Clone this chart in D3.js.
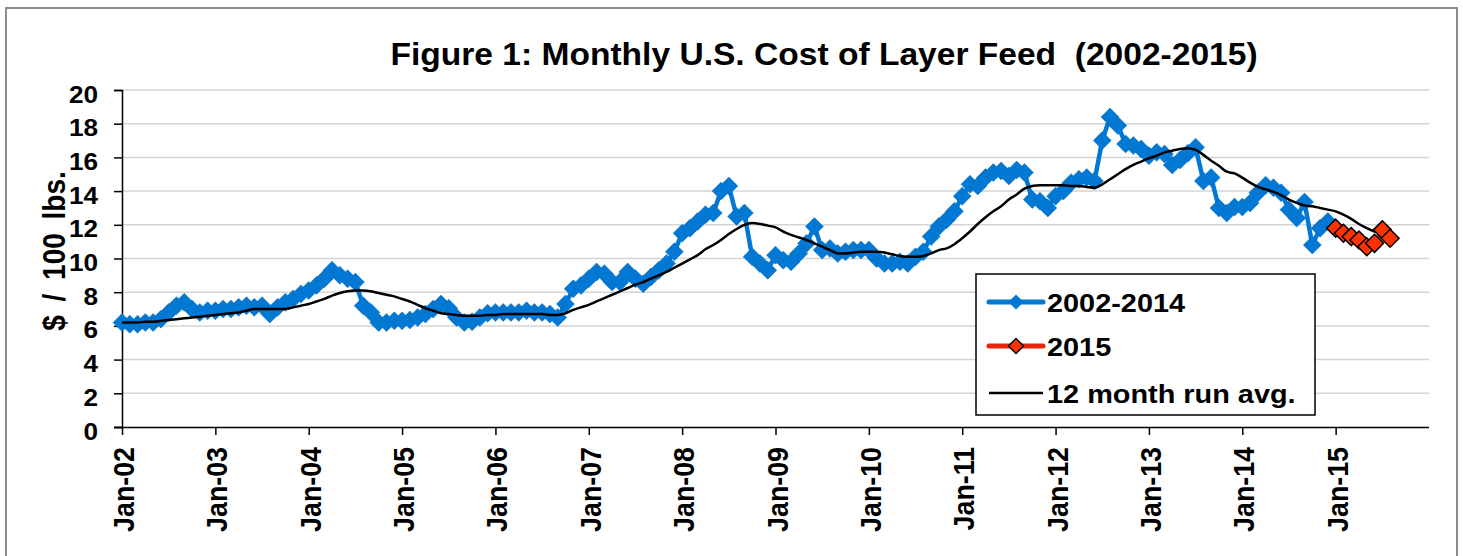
<!DOCTYPE html>
<html>
<head>
<meta charset="utf-8">
<script src="https://cdn.jsdelivr.net/npm/d3@7"></script>
<style>
  body { margin: 0; background: #fff; }
  text { font-family: "Liberation Sans", Arial, sans-serif; font-weight: bold; fill: #000; }
</style>
</head>
<body>
<div class="chart"></div>
<script>
// monthly cost, $ / 100 lbs, Jan 2002 .. Dec 2014
const feed2002to2014 = [
  6.2, 6.1, 6.1, 6.2, 6.2, 6.4, 6.8, 7.2, 7.4, 7.0, 6.8, 6.9,        // 2002
  6.9, 7.0, 7.0, 7.1, 7.2, 7.1, 7.2, 6.7, 7.1, 7.4, 7.6, 7.9,        // 2003
  8.1, 8.4, 8.8, 9.3, 9.0, 8.8, 8.6, 7.2, 6.8, 6.2, 6.2, 6.3,        // 2004
  6.3, 6.35, 6.5, 6.7, 7.0, 7.3, 7.05, 6.5, 6.2, 6.25, 6.5, 6.75,    // 2005
  6.8, 6.8, 6.8, 6.8, 6.9, 6.8, 6.8, 6.7, 6.5, 7.3, 8.2, 8.4,        // 2006
  8.8, 9.2, 9.1, 8.6, 8.6, 9.2, 8.8, 8.5, 8.9, 9.3, 9.7, 10.4,       // 2007
  11.5, 11.8, 12.2, 12.6, 12.7, 14.0, 14.3, 12.5, 12.7, 10.1, 9.7, 9.3, // 2008
  10.2, 9.9, 9.8, 10.3, 10.9, 11.9, 10.5, 10.6, 10.3, 10.4, 10.5, 10.5, // 2009
  10.5, 10.0, 9.7, 9.7, 9.8, 9.7, 10.1, 10.4, 11.3, 11.9, 12.3, 12.8,   // 2010
  13.7, 14.4, 14.3, 14.8, 15.1, 15.2, 14.9, 15.25, 15.1, 13.5, 13.4, 13.0, // 2011
  13.7, 14.0, 14.5, 14.7, 14.8, 14.6, 17.0, 18.4, 17.9, 16.8, 16.7, 16.5,  // 2012
  16.1, 16.3, 16.2, 15.55, 15.85, 16.25, 16.6, 14.6, 14.8, 13.0, 12.7, 13.05, // 2013
  13.05, 13.3, 13.9, 14.35, 14.2, 13.9, 12.9, 12.4, 13.35, 10.8, 11.8, 12.2  // 2014
];
// Jan .. Aug 2015
const feed2015 = [11.8, 11.5, 11.3, 11.1, 10.7, 10.9, 11.7, 11.2];

// 12 month running average, Jan 2002 .. Aug 2015
const runAvg = [
  6.2, 6.2, 6.2, 6.25, 6.25, 6.3, 6.35, 6.4, 6.45, 6.5, 6.55, 6.6,
  6.65, 6.7, 6.75, 6.8, 6.9, 7.0, 7.0, 7.0, 7.0, 7.0, 7.1, 7.2,
  7.3, 7.45, 7.6, 7.8, 7.95, 8.05, 8.1, 8.1, 8.05, 7.95, 7.85, 7.75,
  7.6, 7.45, 7.25, 7.05, 6.9, 6.75, 6.7, 6.65, 6.6, 6.6, 6.6, 6.65,
  6.65, 6.7, 6.7, 6.7, 6.7, 6.7, 6.7, 6.65, 6.65, 6.75, 6.95, 7.1,
  7.25, 7.45, 7.65, 7.85, 8.05, 8.25, 8.45, 8.6, 8.8, 9.0, 9.2, 9.45,
  9.7, 9.95, 10.2, 10.55, 10.8, 11.1, 11.45, 11.75, 12.0, 12.1, 12.05, 11.95,
  11.85, 11.6, 11.4, 11.25, 11.1, 10.9, 10.7, 10.5, 10.3, 10.3, 10.35, 10.4,
  10.4, 10.4, 10.35, 10.25, 10.15, 10.1, 10.1, 10.15, 10.3, 10.5, 10.6, 10.85,
  11.2, 11.6, 12.05, 12.45, 12.8, 13.1, 13.5, 13.8, 14.15, 14.3, 14.35, 14.35,
  14.35, 14.35, 14.3, 14.3, 14.25, 14.2, 14.4, 14.7, 15.0, 15.3, 15.55, 15.75,
  15.95, 16.1, 16.3, 16.4, 16.5, 16.55, 16.45, 16.15, 15.8, 15.5, 15.15, 15.05,
  14.8, 14.5, 14.25, 14.1, 13.95, 13.75, 13.5, 13.3, 13.15, 13.1, 13.0, 12.9,
  12.8, 12.6, 12.35, 12.05, 11.8, 11.6, 11.5, 11.45
];

const yTicks = [0, 2, 4, 6, 8, 10, 12, 14, 16, 18, 20];
const xTickLabels = ['Jan-02', 'Jan-03', 'Jan-04', 'Jan-05', 'Jan-06', 'Jan-07', 'Jan-08',
                     'Jan-09', 'Jan-10', 'Jan-11', 'Jan-12', 'Jan-13', 'Jan-14', 'Jan-15'];
const legendLabels = ['2002-2014', '2015', '12 month run avg.'];
const titleText = 'Figure 1: Monthly U.S. Cost of Layer Feed  (2002-2015)';

// month categories Jan-02 .. Jan-16
const fmt = d3.timeFormat('%b-%y');
const months = d3.timeMonth.range(new Date(2002, 0, 1), new Date(2016, 0, 2)).map(fmt);

const blue = '#0078d4';
const red = '#ff3300';
const sx = 1.09;   // the reference is a bit wider than tall in its lettering

const svg = d3.select('.chart').append('svg')
    .attr('width', 1463)
    .attr('height', 556);

svg.append('rect')
    .attr('x', 6).attr('y', 8)
    .attr('width', 1451).attr('height', 560)
    .attr('fill', '#fff')
    .attr('stroke', '#8c8c8c')
    .attr('stroke-width', 2);

const xScale = d3.scalePoint()
    .domain(months)
    .range([122, 1429]);

const yScale = d3.scaleLinear()
    .domain([0, 20])
    .range([427, 90]);

// grid
svg.append('g')
    .selectAll('line')
    .data(yTicks.slice(1))
    .join('line')
    .attr('x1', 122).attr('x2', 1429)
    .attr('y1', d => yScale(d)).attr('y2', d => yScale(d))
    .attr('stroke', '#d4d4d4')
    .attr('stroke-width', 1.5);

const yAxis = svg.append('g')
    .attr('transform', 'translate(122,0)')
    .call(d3.axisLeft(yScale).tickValues(yTicks).tickSize(8).tickPadding(0));
yAxis.select('.domain').attr('stroke-width', 1.5);
yAxis.selectAll('.tick line').attr('stroke-width', 1.5);
yAxis.selectAll('.tick text')
    .attr('x', null).attr('dy', null)
    .attr('transform', `translate(-24,12) scale(${sx},1)`)
    .attr('text-anchor', 'end')
    .style('font-size', '24px');

const xAxis = svg.append('g')
    .attr('transform', 'translate(0,427)')
    .call(d3.axisBottom(xScale)
        .tickValues(months.filter(m => m.startsWith('Jan')).slice(0, xTickLabels.length))
        .tickFormat((d, i) => xTickLabels[i])
        .tickSize(8)
        .tickSizeOuter(0));
xAxis.select('.domain').attr('d', 'M114,0.5H1429').attr('stroke-width', 1.5);
xAxis.selectAll('.tick line').attr('stroke-width', 1.5);
xAxis.selectAll('.tick text')
    .attr('y', null).attr('dy', null)
    .attr('transform', `translate(11.5,20) scale(${sx},1) rotate(-90)`)
    .attr('text-anchor', 'end')
    .style('font-size', '26.8px');

svg.append('text')
    .attr('transform', `translate(65,251) scale(${sx},1) rotate(-90)`)
    .attr('text-anchor', 'middle')
    .style('font-size', '28px')
    .style('word-spacing', '6px')
    .text('$ / 100 lbs.');

svg.append('text')
    .attr('transform', `translate(824,65) scale(${sx},1)`)
    .attr('text-anchor', 'middle')
    .style('font-size', '30.8px')
    .style('white-space', 'pre')
    .text(titleText);

const diamond = r => `M0,${-r}L${r},0L0,${r}L${-r},0Z`;

const line = d3.line()
    .x(d => xScale(d.m))
    .y(d => yScale(d.v));

const blueData = feed2002to2014.map((v, i) => ({m: months[i], v}));
const redData = feed2015.map((v, i) => ({m: months[156 + i], v}));
const avgData = runAvg.map((v, i) => ({m: months[i], v}));

svg.append('path')
    .datum(blueData)
    .attr('d', line)
    .attr('fill', 'none')
    .attr('stroke', blue)
    .attr('stroke-width', 4.5)
    .attr('stroke-linejoin', 'round');

svg.append('g')
    .selectAll('path')
    .data(blueData)
    .join('path')
    .attr('transform', d => `translate(${xScale(d.m)},${yScale(d.v)})`)
    .attr('d', diamond(9))
    .attr('fill', blue)
    .attr('stroke', '#0a6fc0')
    .attr('stroke-width', 0.5);

svg.append('path')
    .datum(avgData)
    .attr('d', line.curve(d3.curveMonotoneX))
    .attr('fill', 'none')
    .attr('stroke', '#000')
    .attr('stroke-width', 2.5);
line.curve(d3.curveLinear);

svg.append('path')
    .datum(redData)
    .attr('d', line)
    .attr('fill', 'none')
    .attr('stroke', '#e8260c')
    .attr('stroke-width', 4.5);

svg.append('g')
    .selectAll('path')
    .data(redData)
    .join('path')
    .attr('transform', d => `translate(${xScale(d.m)},${yScale(d.v)})`)
    .attr('d', diamond(9))
    .attr('fill', red)
    .attr('stroke', '#000')
    .attr('stroke-width', 1.5);

// legend
const legend = svg.append('g');
legend.append('rect')
    .attr('x', 976).attr('y', 274)
    .attr('width', 339).attr('height', 141)
    .attr('fill', '#fff')
    .attr('stroke', '#000')
    .attr('stroke-width', 1.5);

const rows = legend.selectAll('.row')
    .data(legendLabels)
    .join('g')
    .attr('class', 'row')
    .attr('transform', (d, i) => `translate(0,${[302, 346, 393][i]})`);

rows.append('line')
    .attr('x1', 989).attr('x2', 1043)
    .attr('stroke', (d, i) => [blue, '#e8260c', '#000'][i])
    .attr('stroke-width', (d, i) => i < 2 ? 5 : 2.5)
    .attr('stroke-linecap', (d, i) => i < 2 ? 'round' : 'butt');

rows.filter((d, i) => i < 2).append('path')
    .attr('transform', 'translate(1016,0)')
    .attr('d', diamond(7.5))
    .attr('fill', (d, i) => i === 0 ? blue : red)
    .attr('stroke', (d, i) => i === 0 ? 'none' : '#000')
    .attr('stroke-width', 1.5);

rows.append('text')
    .attr('transform', `translate(1047,10) scale(${sx},1)`)
    .style('font-size', '26.5px')
    .text(d => d);
</script>
</body>
</html>
